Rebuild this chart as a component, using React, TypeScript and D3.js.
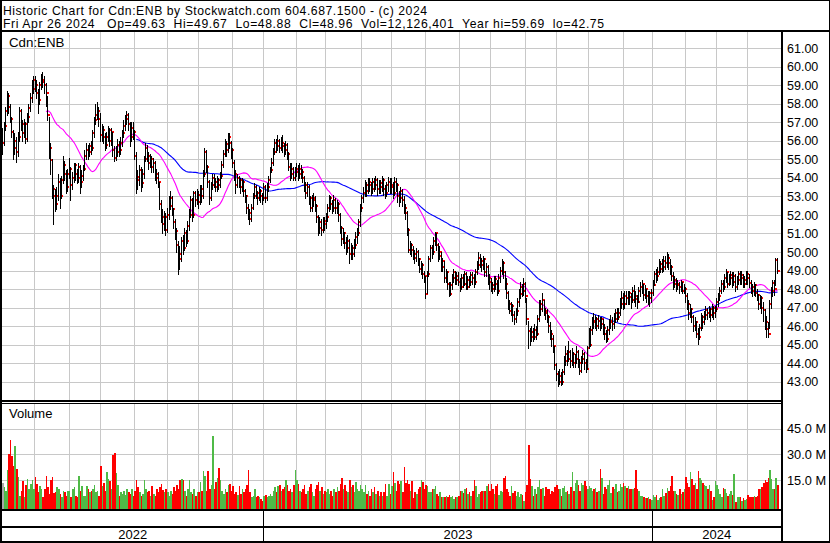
import React from "react";
import * as d3 from "d3";

// ---- data -------------------------------------------------------------
const HEADER1 = "Historic Chart for Cdn:ENB by Stockwatch.com 604.687.1500 - (c) 2024";
const HEADER2 = "Fri Apr 26 2024   Op=49.63  Hi=49.67  Lo=48.88  Cl=48.96  Vol=12,126,401  Year hi=59.69  lo=42.75";
const SYMBOL = "Cdn:ENB";

// trading days per month, May 2022 .. Apr 2024
const MONTH_DAYS = [21, 22, 20, 22, 21, 20, 22, 20, 21, 19, 23, 19, 22, 22, 20, 22, 20, 21, 22, 19, 21, 20, 20, 20];
const YEARS = ["2022", "2023", "2024"];
const MONTHS_PER_YEAR = [8, 12, 4];

const PRICE_TICKS = [43, 44, 45, 46, 47, 48, 49, 50, 51, 52, 53, 54, 55, 56, 57, 58, 59, 60, 61];
const VOLUME_TICKS = [15, 30, 45];
const MA_FAST = 29;
const MA_SLOW = 87;

const CLOSE = [
  55.9,56.8,57.6,58.4,57.8,57.2,56.5,55.6,56.0,55.4,56.2,57.6,56.9,56.4,56.9,56.1,57.3,57.75,58.3,58.8,59.3,
  59.0,58.6,58.2,59.0,59.3,59.2,59.0,58.6,57.4,55.6,54.95,53.4,53.0,52.6,53.0,53.8,53.0,53.9,54.7,54.2,53.5,54.2,
  54.5,53.6,54.0,54.7,54.2,54.0,54.6,53.8,54.1,54.5,55.2,55.5,55.4,55.7,55.6,56.4,57.1,57.4,57.6,57.2,
  56.3,56.6,56.2,55.8,56.2,56.6,56.0,56.5,55.5,55.1,55.4,55.8,55.5,55.9,56.4,56.8,57.2,57.4,56.9,56.2,56.7,56.5,
  55.2,54.05,53.9,54.4,53.75,54.2,55.0,55.6,55.2,54.8,55.0,54.6,54.8,54.2,54.0,53.8,52.6,51.9,51.5,51.9,51.2,
  52.0,52.5,52.9,52.3,51.6,51.15,50.4,49.9,49.6,50.6,50.2,51.05,50.6,51.4,52.0,52.8,52.0,53.2,52.8,53.05,
  52.7,53.4,53.0,54.2,55.4,54.6,53.8,52.9,53.6,54.0,53.8,53.5,53.9,53.6,54.1,54.7,55.3,55.85,55.5,56.2,55.9,55.5,
  54.8,54.2,53.6,54.0,53.9,53.5,53.8,53.3,53.0,52.4,52.1,51.8,52.4,53.0,53.5,53.2,52.9,53.3,53.0,52.9,
  53.5,52.9,53.5,53.9,54.4,54.8,55.4,55.9,55.7,56.0,55.6,55.9,55.7,55.5,55.8,55.3,54.6,54.2,54.5,54.0,54.3,
  54.5,54.2,54.5,54.3,54.0,53.6,53.2,53.5,52.9,52.4,52.8,52.9,52.5,51.9,51.3,51.6,51.2,51.7,51.5,
  51.9,52.4,52.9,52.6,52.4,52.8,52.35,52.6,52.0,51.3,50.7,51.0,50.5,50.2,50.6,49.9,50.2,49.9,50.4,50.8,51.0,51.6,52.35,
  52.9,53.2,53.6,53.3,53.8,53.6,53.4,53.8,53.6,53.9,53.4,53.7,53.5,53.9,53.4,53.2,53.6,53.8,53.5,
  53.6,53.2,53.8,53.6,53.0,52.9,53.3,52.8,52.35,52.1,51.2,50.1,50.4,50.1,49.9,49.7,50.0,49.6,49.1,49.3,48.8,48.7,
  47.75,48.8,49.6,50.2,50.0,50.6,51.05,50.4,49.8,50.0,49.2,49.5,48.6,48.9,48.3,47.75,48.2,48.6,48.9,48.5,48.7,48.4,
  48.1,48.6,48.3,48.8,48.1,48.5,48.4,48.75,48.6,48.4,48.9,49.3,49.7,49.5,49.3,49.6,48.9,49.2,48.6,48.4,
  48.2,48.0,48.55,48.3,47.9,48.6,49.0,49.4,48.9,48.3,47.8,47.2,46.8,47.1,46.6,46.4,46.8,47.3,47.75,48.1,47.9,48.3,
  47.6,46.4,45.75,45.4,45.7,45.4,45.8,45.6,46.4,47.2,46.9,47.4,46.8,46.7,46.5,46.0,45.6,45.3,44.9,43.9,
  43.4,43.0,43.3,43.0,43.5,44.1,44.5,44.2,44.6,44.1,44.5,44.0,44.2,44.6,44.0,43.6,44.2,44.5,44.0,43.7,44.8,
  45.0,45.8,46.3,46.2,46.4,46.0,46.3,46.1,46.4,45.9,45.6,45.3,45.8,46.2,46.3,46.1,46.4,46.7,46.5,46.7,47.2,47.5,
  47.2,47.6,47.5,47.8,47.55,47.4,47.9,47.6,47.45,47.3,47.9,48.1,48.3,47.7,48.0,47.6,47.8,47.5,47.8,
  48.2,48.8,48.7,48.9,49.35,49.1,49.2,49.5,49.4,49.7,49.4,49.2,48.7,48.3,48.5,48.2,48.3,48.1,48.4,47.9,48.0,
  47.6,47.2,46.7,46.9,46.5,46.0,46.2,45.6,45.4,45.9,46.5,46.2,46.6,46.85,46.7,46.9,46.6,47.0,46.7,46.9,
  47.3,47.6,47.9,48.3,48.1,48.6,48.9,48.3,48.6,48.75,48.4,48.7,48.1,48.5,48.8,48.6,48.75,48.3,48.5,48.8,
  48.6,48.35,48.1,47.9,48.2,47.8,47.7,47.2,47.5,47.0,46.85,46.2,45.85,45.6,47.2,47.9,48.35,48.0,49.55,48.96,
];

const HIGH = [
  56.7,57.0,57.8,58.7,58.6,58.0,57.3,56.6,56.4,56.2,56.5,57.8,57.7,57.1,57.2,57.0,57.5,58.0,58.6,59.3,59.5,
  59.5,59.3,58.8,59.2,59.6,59.69,59.5,59.1,58.4,57.3,55.9,55.0,53.6,53.4,53.5,54.2,54.0,54.1,55.2,54.9,54.4,54.5,
  55.05,54.6,54.3,54.8,54.8,54.5,54.8,54.7,54.4,54.7,55.5,55.9,55.8,55.9,56.0,56.6,57.3,58.0,58.1,57.8,
  57.5,56.9,56.8,56.4,56.5,56.8,56.7,56.7,56.5,55.7,55.7,56.1,56.0,56.2,56.6,57.1,57.4,57.6,57.5,57.0,57.0,57.0,
  56.6,55.4,54.4,54.7,54.6,54.5,55.2,55.9,55.8,55.4,55.3,55.2,55.1,54.9,54.5,54.3,53.8,52.8,52.3,52.2,52.1,
  52.4,53.0,53.3,53.0,52.4,51.8,51.3,50.6,50.3,50.8,50.9,51.3,51.2,51.7,52.3,53.0,52.9,53.3,53.3,53.4,
  53.3,53.6,53.6,54.4,55.6,55.5,54.7,53.9,53.8,54.2,54.2,54.0,54.1,54.0,54.3,54.9,55.5,56.1,56.0,56.4,56.4,56.0,
  55.6,54.95,54.4,54.2,54.1,54.0,54.0,53.9,53.4,53.1,52.6,52.3,52.6,53.2,53.7,53.6,53.3,53.5,53.4,53.2,
  53.7,53.6,53.7,54.1,54.6,55.1,55.6,56.1,56.1,56.3,56.1,56.2,56.3,55.9,56.0,55.9,55.4,54.8,54.8,54.6,54.6,
  54.8,54.7,54.8,54.7,54.5,54.1,53.8,53.8,53.6,53.0,53.1,53.2,53.0,52.6,52.0,51.9,51.8,51.9,51.9,
  52.1,52.6,53.05,53.0,52.8,53.1,52.9,52.8,52.7,52.1,51.4,51.3,51.1,50.8,50.9,50.7,50.5,50.4,50.7,51.1,51.3,51.8,52.6,
  53.1,53.5,53.9,53.8,54.0,54.0,53.8,54.0,54.0,54.1,54.0,53.9,53.9,54.1,54.0,53.6,53.8,54.05,54.0,
  54.0,53.8,54.05,54.0,53.7,53.3,53.5,53.4,53.0,52.6,52.2,51.3,50.6,50.5,50.3,50.1,50.2,50.1,49.7,49.5,49.4,49.0,
  48.7,49.0,49.8,50.4,50.4,50.8,51.1,51.0,50.5,50.3,50.0,49.7,49.5,49.1,49.0,48.4,48.4,48.8,49.1,49.0,48.9,48.9,
  48.6,48.8,48.8,49.0,48.9,48.7,48.7,48.9,48.9,48.8,49.1,49.5,50.0,49.9,49.7,49.8,49.7,49.4,49.3,48.8,
  48.6,48.4,48.7,48.7,48.5,48.8,49.2,49.6,49.5,49.0,48.6,47.9,47.4,47.3,47.2,46.8,47.0,47.5,48.0,48.4,48.3,48.6,
  48.4,47.5,46.3,45.9,46.0,45.9,46.1,46.0,46.6,47.4,47.4,47.8,47.4,47.0,46.9,46.6,46.2,45.8,45.5,44.9,
  44.0,43.6,43.7,43.5,43.7,44.4,44.9,44.7,45.2,44.7,44.8,44.6,44.5,44.9,44.7,44.2,44.4,44.7,44.6,44.2,44.9,
  45.9,46.0,46.5,46.7,46.6,46.5,46.6,46.5,46.5,46.4,46.1,45.8,46.0,46.4,46.6,46.5,46.7,46.9,47.0,47.0,47.5,47.9,
  47.8,47.9,47.9,47.9,47.9,47.8,48.1,48.2,47.9,47.7,48.1,48.4,48.5,48.3,48.2,48.0,47.9,47.9,48.0,
  48.5,49.0,49.1,49.2,49.6,49.5,49.6,49.8,49.8,50.0,49.9,49.6,49.3,48.9,48.7,48.6,48.5,48.4,48.5,48.4,48.3,
  48.1,47.8,47.4,47.2,47.0,46.6,46.5,46.3,45.9,46.1,46.7,46.6,46.8,47.1,47.0,47.1,47.0,47.2,47.1,47.1,
  47.5,47.8,48.1,48.5,48.5,48.8,49.1,48.9,48.8,49.0,48.9,48.9,48.8,48.7,49.0,49.0,49.0,48.8,48.7,49.0,
  49.0,48.8,48.5,48.3,48.4,48.3,48.0,47.75,47.7,47.6,47.3,46.9,46.55,46.2,47.4,48.1,48.5,48.5,49.65,49.67,
];

const LOW = [
  55.3,55.8,56.6,57.4,57.5,57.0,56.2,55.0,55.3,54.85,55.2,56.0,56.6,56.0,56.2,55.9,56.0,57.0,57.6,58.1,58.6,
  58.7,58.3,57.5,58.0,58.8,58.9,58.6,57.9,57.1,55.1,54.2,52.9,51.5,52.2,52.3,52.8,52.4,52.9,53.7,53.9,53.2,53.3,
  54.0,52.8,53.4,53.8,53.9,53.7,53.8,53.2,53.5,53.9,54.4,55.0,55.0,55.2,55.3,55.5,56.2,56.9,57.2,56.8,
  56.0,56.0,55.9,55.5,55.6,56.0,55.7,55.8,55.2,54.9,54.95,55.2,55.2,55.3,55.7,56.2,56.6,56.9,56.6,55.7,56.0,56.1,
  55.0,53.2,53.4,53.6,53.3,53.5,54.0,54.9,54.9,54.5,54.6,54.3,54.3,53.9,53.7,53.5,52.3,51.6,51.0,51.2,50.9,
  51.1,51.8,52.3,52.0,51.3,50.7,50.0,48.8,49.1,49.5,49.9,50.1,50.3,50.5,51.2,51.9,51.7,51.9,52.5,52.6,
  52.4,52.6,52.7,52.9,54.1,54.3,53.5,52.6,52.8,53.4,53.5,53.3,53.3,53.4,53.5,54.0,54.6,55.2,55.2,55.4,55.6,55.1,
  54.6,53.9,53.2,53.5,53.5,53.2,53.3,53.0,52.7,52.1,51.8,51.5,51.7,52.3,52.9,52.9,52.6,52.8,52.7,52.6,
  52.8,52.7,52.8,53.3,53.8,54.3,54.7,55.3,55.4,55.5,55.4,55.5,55.4,55.2,55.3,55.0,54.4,53.9,54.0,53.9,53.9,
  54.1,53.9,54.0,54.0,53.8,53.3,52.9,53.0,52.6,52.2,52.2,52.5,52.2,51.6,50.9,51.0,50.9,51.1,51.2,
  51.3,51.7,52.2,52.3,52.1,52.2,52.1,52.1,51.7,51.0,50.4,50.5,50.2,49.9,50.0,49.4,49.6,49.6,49.8,50.2,50.5,50.9,51.4,
  52.2,52.7,53.0,53.0,53.2,53.3,53.1,53.2,53.3,53.4,53.1,53.2,53.2,53.3,53.1,52.9,53.0,53.3,53.2,
  53.2,52.9,53.1,53.3,52.7,52.5,52.7,52.5,52.1,51.8,50.9,50.0,49.9,49.8,49.6,49.4,49.5,49.3,48.9,48.8,48.6,48.4,
  47.5,47.8,48.7,49.5,49.7,49.9,50.4,50.1,49.5,49.6,49.0,49.0,48.4,48.4,48.0,47.65,47.7,48.0,48.4,48.3,48.3,48.2,
  47.9,48.0,48.1,48.2,48.0,48.0,48.1,48.2,48.3,48.1,48.3,48.8,49.1,49.2,49.0,49.1,48.7,48.7,48.3,48.0,
  47.9,47.8,47.9,48.0,47.7,47.8,48.4,48.8,48.6,48.0,47.5,46.9,46.7,46.6,46.3,46.1,46.2,46.6,47.1,47.5,47.6,47.7,
  47.3,46.1,44.8,45.0,45.2,45.2,45.3,45.3,45.5,46.3,46.6,46.8,46.6,46.4,46.2,45.7,45.3,44.95,44.6,43.7,
  43.1,42.75,42.9,42.8,42.9,43.4,43.9,43.9,44.1,43.8,43.9,43.8,43.8,44.0,43.8,43.4,43.5,44.0,43.7,43.5,43.7,
  44.8,44.9,45.6,45.9,45.9,45.8,45.9,45.8,45.9,45.6,45.3,45.15,45.2,45.6,45.9,45.8,45.9,46.2,46.3,46.4,46.6,47.0,
  46.95,47.0,47.2,47.2,47.2,47.0,47.3,47.3,47.1,47.0,47.3,47.6,47.8,47.4,47.5,47.3,47.2,47.1,47.3,
  47.7,48.2,48.4,48.5,48.8,48.9,48.9,49.0,49.1,49.2,49.1,48.8,48.5,48.0,48.1,47.9,48.0,47.8,47.9,47.8,47.8,
  47.3,46.9,46.4,46.5,46.2,45.75,45.8,45.4,45.05,45.3,45.8,45.9,46.1,46.4,46.4,46.5,46.3,46.5,46.4,46.5,
  46.8,47.1,47.4,47.8,47.9,48.0,48.4,48.1,48.2,48.3,48.1,48.2,47.9,48.0,48.3,48.3,48.3,48.1,48.1,48.3,
  48.3,48.1,47.8,47.6,47.7,47.6,47.4,46.9,47.0,46.7,46.3,45.85,45.4,45.4,45.9,47.0,47.6,47.7,48.2,48.88,
];

// daily volume, millions of shares
const VOLUME = [
  13.6,11.3,9,21,30,38.6,29,23,34.7,21.8,17,5.7,9,14.4,5,12,15.6,10,13,15,10,
  17,13,8,11.5,10,5.5,10,17.7,11,7,15,17,7.5,8,11,10,7,5.5,9,8,6,9,
  9,5,10,11,6,5,17.7,9,11.5,6,6,11.5,9.6,8,9,10,12,8,9,6,
  23,11.5,13.5,9,20,15.5,14.5,10,29.6,31,19,12,6,8,7,9,6.5,10,8,7,9.6,6,
  9,15.4,11,8,6,7,15,10,8,9,6,11.5,7,6,9.6,8,11,13,9.5,8,10,
  8,6,9,7,11,9,12,10,15,15.5,15.4,9,6,10,15,8,7,9.6,6,8,
  8,13.8,9,20.6,17.5,9,20.6,9.6,12,40.5,9.6,14,16,22,15,9,7,10,8,12.5,13,9,
  11.5,7,8,6.5,11.5,7,9.6,8,10,12,21,8,5,6,9.6,5.5,6,5,4,3,
  6,6.4,5.5,6,7,6,9,11,8,11.5,12,9,10,11,15.4,12,9,10,8,12,21,
  15,13,9,8,10,12,7,9,11,13,8,6,10,12,14,9,11,7,9,
  8,10,7,9,6,10,8,11,9,13,16,10,12,9,8,15,11,12,8,14,10,9,12,
  10,8,12,7,9,6,10,8,11,7,9,6,8,5.7,8,12.9,5.7,12.9,7,
  11.5,19.6,13.5,9,14.3,13,14.3,8,22.8,13.5,15.4,13,9,14.3,4.6,8,7,9.6,11,15,14,10,
  12,11.9,8,8,9.6,9.6,11.5,7,6,8,5,5.5,5.5,6,5,6.5,5,6,4,5.5,5,6,
  8.9,8.5,7.5,9.6,10.5,7,8,6,9,15.4,11.9,5,7,8,8.5,9,8.5,11.5,13,9,
  13,10,7,11.5,12.9,6.6,9,8,16.5,17.4,10,8,6,11.5,7.5,9,6,8,5.5,7,6.5,3,
  8,12,35.7,15.7,11.9,5.7,9.6,7,11,15,10,10.5,6,11,9.6,10,7,9,8,11,
  12,10,9.6,6,10.5,11.5,8,9,7,11,19.6,9,13.5,14.9,12,9,13.5,12,14.5,11.5,10,
  11.5,10.5,8.9,9.6,10.5,8,9,21.5,16.4,7,11,9.6,12,15.4,7.5,11,10,13,8,9,13,11,
  13.5,11.5,10.5,11.5,9.6,9.6,10,10.5,21,9.6,8.9,6,6,5,4.5,4.5,5.5,4,3.5,
  6.6,5,6.2,3.5,4.5,5,9.6,6,7.5,10.5,9,11.5,17.4,9,9,7,6.5,9.6,7,8,10,
  16.8,13.1,11,19.6,15.8,12,13.5,10,20.5,16.4,15.4,13.5,12,11.5,10,12.5,9,3.5,5,14.6,
  12,9.6,7,5.5,10.5,9.6,7.5,6,7,9,6.5,18.5,2.5,5,5,5.5,3,4.5,3.5,4,
  6.2,5.5,5.5,5,6,5.5,6,9.6,10,11.2,13.3,15,14,16.4,21,15.8,9.6,9.6,16,12.1,
];

// ---- chart ------------------------------------------------------------
const FONT = "'Liberation Sans', Arial, Helvetica, sans-serif";
const GRID = "#c8c8c8";

function sma(values: number[], period: number) {
  const out: { i: number; v: number }[] = [];
  let sum = 0;
  for (let i = 0; i < values.length; i++) {
    sum += values[i];
    if (i >= period) sum -= values[i - period];
    if (i >= period - 1) out.push({ i, v: sum / period });
  }
  return out;
}

export default function App() {
  const W = 830;
  const H = 543;
  const N = Math.min(CLOSE.length, HIGH.length, LOW.length, VOLUME.length);

  const plotLeft = 2;
  const plotRight = 781;
  const priceTop = 32;
  const priceBottom = 400;
  const volTop = 404;
  const volBottom = 509;

  const x = d3.scaleLinear().domain([0, N - 1]).range([2.5, 777.5]);
  const step = x(1) - x(0);
  const y = d3.scaleLinear().domain([43, 61]).range([381.7, 48.2]);
  const yv = d3.scaleLinear().domain([0, 45]).range([506, 428.6]);

  // month start indices
  const monthStarts: number[] = [];
  let acc = 0;
  MONTH_DAYS.forEach((d) => {
    monthStarts.push(acc);
    acc += d;
  });
  const boundaryX = (idx: number) => Math.round(x(idx) - step / 2) + 0.5;

  // year segments
  const yearStarts: number[] = [];
  let m = 0;
  MONTHS_PER_YEAR.forEach((c) => {
    yearStarts.push(monthStarts[m]);
    m += c;
  });
  const yearEdges = yearStarts.map((s, k) => (k === 0 ? plotLeft : boundaryX(s)));
  yearEdges.push(plotRight);

  const maFast = sma(CLOSE.slice(0, N), MA_FAST);
  const maSlow = sma(CLOSE.slice(0, N), MA_SLOW);
  const line = d3
    .line<{ i: number; v: number }>()
    .x((d) => x(d.i))
    .y((d) => y(d.v));

  const bars = d3.range(N);

  return (
    <div style={{ position: "absolute", left: 0, top: 0 }}>
      <svg width={W} height={H} viewBox={`0 0 ${W} ${H}`} style={{ display: "block", background: "#fff" }}>
        <rect x={0} y={0} width={W} height={H} fill="#fff" />
        {/* header */}
        <text
          x={3}
          y={14.6}
          fontFamily={FONT}
          fontSize={12.2}
          fill="#000"
          textLength={424}
          lengthAdjust="spacing"
          style={{ whiteSpace: "pre" }}
        >
          {HEADER1}
        </text>
        <text
          x={3}
          y={28.4}
          fontFamily={FONT}
          fontSize={12.2}
          fill="#000"
          textLength={601}
          lengthAdjust="spacing"
          style={{ whiteSpace: "pre" }}
        >
          {HEADER2}
        </text>

        {/* grid */}
        <g shapeRendering="crispEdges" stroke={GRID} strokeWidth={1}>
          {PRICE_TICKS.map((t) => (
            <line key={"hp" + t} x1={plotLeft} x2={plotRight} y1={Math.round(y(t)) + 0.5} y2={Math.round(y(t)) + 0.5} />
          ))}
          {VOLUME_TICKS.map((t) => (
            <line key={"hv" + t} x1={plotLeft} x2={plotRight} y1={Math.round(yv(t)) + 0.5} y2={Math.round(yv(t)) + 0.5} />
          ))}
          {monthStarts.slice(1).map((s) => (
            <g key={"vm" + s}>
              <line x1={boundaryX(s)} x2={boundaryX(s)} y1={priceTop} y2={priceBottom} />
              <line x1={boundaryX(s)} x2={boundaryX(s)} y1={volTop} y2={volBottom} />
            </g>
          ))}
        </g>

        {/* moving averages */}
        <path d={line(maSlow) || ""} fill="none" stroke="#0000ff" strokeWidth={1.1} />
        <path d={line(maFast) || ""} fill="none" stroke="#ff00ff" strokeWidth={1.1} />

        {/* price bars */}
        <g shapeRendering="crispEdges">
          {bars.map((i) => {
            const bx = Math.floor(x(i));
            const yh = Math.round(y(HIGH[i]));
            const yl = Math.round(y(LOW[i]));
            const yc = Math.round(y(CLOSE[i]));
            return (
              <g key={"b" + i}>
                <rect x={bx} y={yh} width={1} height={Math.max(1, yl - yh + 1)} fill="#000" />
                <rect x={bx + 1} y={yc - 1} width={2} height={2} fill="#ff0000" />
              </g>
            );
          })}
        </g>

        {/* volume bars */}
        <g shapeRendering="crispEdges">
          {bars.map((i) => {
            const x0 = Math.floor(x(i));
            const x1 = i < N - 1 ? Math.floor(x(i + 1)) : x0 + 2;
            const prev = i > 0 ? CLOSE[i - 1] : CLOSE[i];
            const c = CLOSE[i] > prev ? "#4fba47" : CLOSE[i] < prev ? "#ff0000" : "#a8a8a8";
            const top = yv(VOLUME[i]);
            return <rect key={"v" + i} x={x0} y={top} width={Math.max(1, x1 - x0)} height={volBottom - top} fill={c} />;
          })}
        </g>

        {/* panel labels */}
        <text x={9} y={46.5} fontFamily={FONT} fontSize={13.3} fill="#000">
          {SYMBOL}
        </text>
        <text x={9} y={418} fontFamily={FONT} fontSize={13} fill="#000">
          Volume
        </text>

        {/* frame lines */}
        <g shapeRendering="crispEdges" fill="#000">
          <rect x={0} y={0} width={W} height={1} />
          <rect x={0} y={0} width={2} height={H} />
          <rect x={W - 1} y={0} width={1} height={H} />
          <rect x={0} y={H - 2} width={W} height={2} />
          <rect x={0} y={30} width={W} height={2} />
          <rect x={plotRight} y={30} width={2} height={H - 30} />
          <rect x={0} y={400} width={plotRight} height={2} />
          <rect x={0} y={403} width={plotRight} height={1} />
          <rect x={0} y={509} width={plotRight} height={2} />
          <rect x={0} y={526} width={plotRight} height={2} />
          {yearStarts.slice(1).map((s) => (
            <rect key={"yd" + s} x={boundaryX(s) - 0.5} y={510} width={1} height={H - 512} />
          ))}
        </g>

        {/* year labels */}
        {YEARS.map((yr, k) => (
          <text
            key={yr}
            x={(yearEdges[k] + yearEdges[k + 1]) / 2}
            y={539}
            textAnchor="middle"
            fontFamily={FONT}
            fontSize={13}
            fill="#000"
          >
            {yr}
          </text>
        ))}

        {/* right axis labels */}
        {PRICE_TICKS.map((t) => (
          <text key={"tp" + t} x={787} y={y(t) + 4.6} fontFamily={FONT} fontSize={12.5} fill="#000">
            {t.toFixed(2)}
          </text>
        ))}
        {VOLUME_TICKS.map((t) => (
          <text
            key={"tv" + t}
            x={787}
            y={yv(t) + 4.8}
            fontFamily={FONT}
            fontSize={12.8}
            fill="#000"
            style={{ whiteSpace: "pre" }}
          >
            {t.toFixed(1) + " M"}
          </text>
        ))}
      </svg>
    </div>
  );
}
